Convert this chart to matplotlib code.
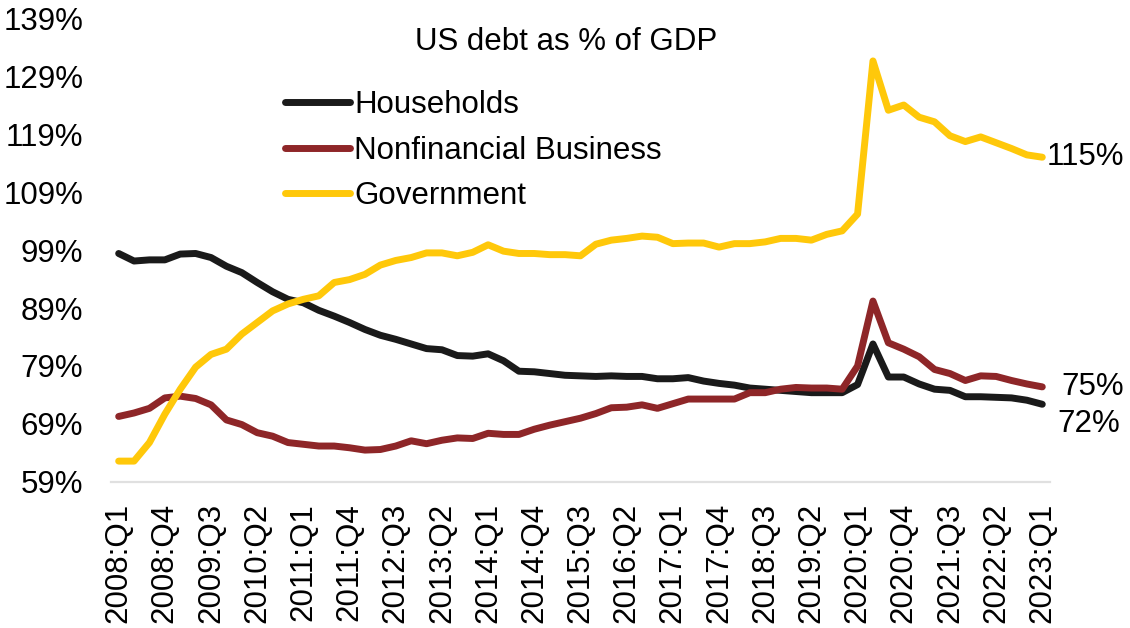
import matplotlib
matplotlib.use("Agg")
import matplotlib.pyplot as plt
from matplotlib.ticker import FixedLocator, FuncFormatter

plt.rcParams["font.family"] = ["Liberation Sans", "DejaVu Sans"]

# Quarterly categories 2008:Q1 .. 2023:Q1
quarters = [f"{y}:Q{q}" for y in range(2008, 2024) for q in range(1, 5)][:61]

households = [98.4, 97.1, 97.3, 97.3, 98.3, 98.4, 97.7, 96.2, 95.1, 93.4,
              91.8, 90.5, 89.9, 88.6, 87.6, 86.5, 85.3, 84.3, 83.6, 82.8,
              82.0, 81.8, 80.8, 80.7, 81.1, 79.9, 78.1, 78.0, 77.7, 77.4,
              77.3, 77.2, 77.3, 77.2, 77.2, 76.8, 76.8, 77.0, 76.4, 76.0,
              75.7, 75.2, 75.0, 74.8, 74.6, 74.4, 74.4, 74.4, 75.8, 82.8,
              77.1, 77.1, 75.9, 75.0, 74.8, 73.7, 73.7, 73.6, 73.5, 73.1,
              72.4]

business = [70.3, 70.9, 71.7, 73.5, 73.8, 73.4, 72.3, 69.7, 68.9, 67.5,
            66.9, 65.8, 65.5, 65.2, 65.2, 64.9, 64.5, 64.6, 65.2, 66.1,
            65.6, 66.2, 66.6, 66.5, 67.4, 67.2, 67.2, 68.1, 68.8, 69.4,
            70.0, 70.8, 71.8, 71.9, 72.3, 71.7, 72.5, 73.3, 73.3, 73.3,
            73.3, 74.4, 74.4, 75.0, 75.3, 75.2, 75.2, 75.0, 79.0, 90.2,
            83.0, 81.9, 80.6, 78.4, 77.7, 76.5, 77.3, 77.2, 76.5, 75.9,
            75.4]

government = [62.6, 62.6, 65.8, 70.7, 75.0, 78.8, 81.0, 81.9, 84.5, 86.5,
              88.5, 89.7, 90.5, 91.1, 93.4, 93.9, 94.8, 96.4, 97.2, 97.7,
              98.5, 98.5, 98.0, 98.6, 99.9, 98.8, 98.4, 98.4, 98.2, 98.2,
              98.0, 100.0, 100.7, 101.0, 101.4, 101.2, 100.1, 100.2, 100.2, 99.5,
              100.1, 100.1, 100.4, 101.0, 101.0, 100.7, 101.7, 102.3, 105.2, 131.6,
              123.1, 124.0, 121.9, 121.1, 118.7, 117.7, 118.5, 117.5, 116.5, 115.4,
              115.0]

series_names = ["Households", "Nonfinancial Business", "Government"]
series_colors = ["#1a1a1a", "#8e2628", "#ffc80a"]
y_ticks = [59, 69, 79, 89, 99, 109, 119, 129, 139]

FS = 22.5

fig = plt.figure(figsize=(11.3, 6.28), dpi=100)
ax = fig.add_axes([0.0982, 0.2325, 0.8310, 0.7388])

x = list(range(len(quarters)))
for vals, name, col in zip([households, business, government], series_names, series_colors):
    ax.plot(x, vals, color=col, lw=5.0, label=name,
            solid_capstyle="round", solid_joinstyle="round")

ax.set_xlim(-0.5, len(quarters) - 0.5)
ax.set_ylim(y_ticks[0], y_ticks[-1])

ax.yaxis.set_major_locator(FixedLocator(y_ticks))
ax.yaxis.set_major_formatter(FuncFormatter(lambda v, p: f"{v:.0f}%"))
ax.set_xticks(x[::3])
ax.set_xticklabels(quarters[::3], rotation=90, fontsize=FS)
ax.tick_params(axis="y", length=0, pad=20, labelsize=FS)
ax.tick_params(axis="x", length=0, pad=15)

for s in ["top", "right", "left"]:
    ax.spines[s].set_visible(False)
ax.spines["bottom"].set_color("#e0e0e0")
ax.spines["bottom"].set_linewidth(1.6)

ax.text(0.485, 0.948, "US debt as % of GDP", transform=ax.transAxes,
        ha="center", va="center", fontsize=FS)

leg = ax.legend(loc="upper left", bbox_to_anchor=(0.185, 0.845), frameon=False,
                fontsize=FS, handlelength=2.1, handletextpad=0.13,
                labelspacing=0.5, borderaxespad=0, borderpad=0)
for h in leg.get_lines():
    h.set_solid_capstyle("round")

last = len(quarters) - 1
ax.annotate(f"{government[-1]:.0f}%", (last, government[-1]), xytext=(3, 0),
            textcoords="offset points", ha="left", va="center", fontsize=FS,
            annotation_clip=False)
ax.annotate(f"{business[-1]:.0f}%", (last, business[-1]), xytext=(14, 0),
            textcoords="offset points", ha="left", va="center", fontsize=FS,
            annotation_clip=False)
ax.annotate(f"{households[-1]:.0f}%", (last, households[-1]), xytext=(11, -14),
            textcoords="offset points", ha="left", va="center", fontsize=FS,
            annotation_clip=False)

fig.savefig("out.png", dpi=100)
